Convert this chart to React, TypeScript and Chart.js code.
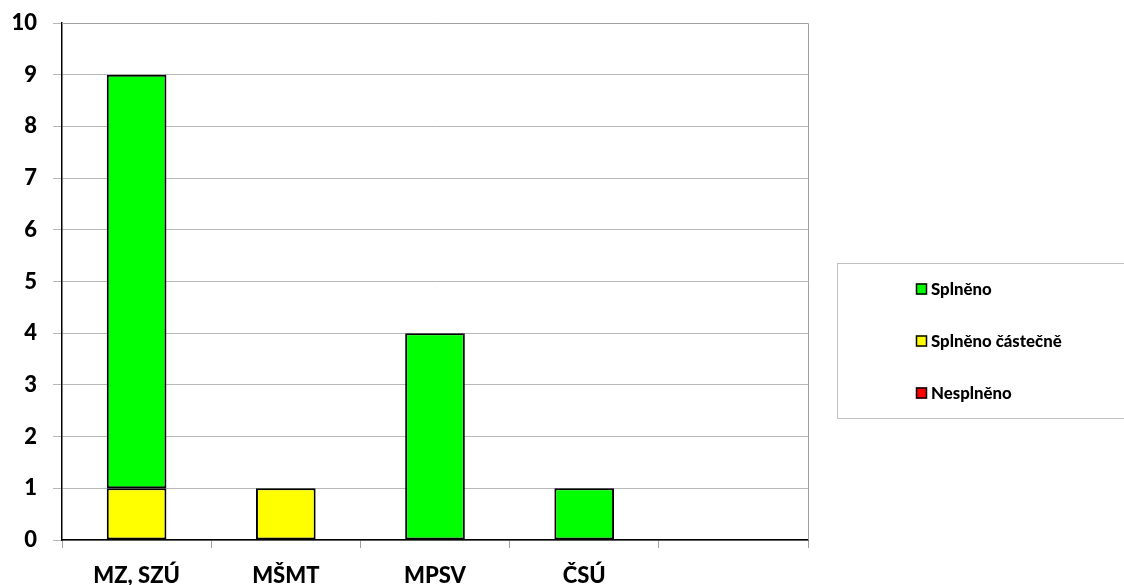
import React, { useEffect, useRef } from "react";
import { Chart, registerables } from "chart.js";

Chart.register(...registerables);

const categories = ["MZ, SZÚ", "MŠMT", "MPSV", "ČSÚ", ""];
const splnenoValues = [8, null, 4, 1, null];
const castecneValues = [1, 1, null, null, null];
const nesplnenoValues = [null, null, null, null, null];
const seriesLabels = ["Splněno", "Splněno částečně", "Nesplněno"];
const seriesColors = ["#00FF00", "#FFFF00", "#FF0000"];
const yTicks = [0, 1, 2, 3, 4, 5, 6, 7, 8, 9, 10];

const FONT = "Lato, 'Open Sans', sans-serif";

const frame = {
  id: "frame",
  beforeDatasetsDraw(chart: any) {
    const { ctx, chartArea: a } = chart;
    ctx.save();
    ctx.strokeStyle = "#a0a0a0";
    ctx.lineWidth = 1;
    ctx.beginPath();
    ctx.moveTo(a.left, a.top + 0.5);
    ctx.lineTo(a.right + 0.5, a.top + 0.5);
    ctx.lineTo(a.right + 0.5, a.bottom);
    ctx.stroke();
    ctx.restore();
  },
};

const boxLegend = {
  id: "boxLegend",
  afterDraw(chart: any) {
    const { ctx } = chart;
    ctx.save();
    ctx.strokeStyle = "#c0c0c0";
    ctx.lineWidth = 1;
    ctx.strokeRect(837.5, 263.5, 300, 155);
    ctx.font = `900 16.8px ${FONT}`;
    ctx.textBaseline = "middle";
    ctx.fillStyle = "#000";
    const ys = [289, 341, 393];
    seriesLabels.forEach((lab, i) => {
      ctx.fillStyle = seriesColors[i];
      ctx.fillRect(916, ys[i] - 5.5, 11, 11);
      ctx.strokeStyle = "#000";
      ctx.lineWidth = 1.5;
      ctx.strokeRect(916.5, ys[i] - 5, 10, 10);
      ctx.fillStyle = "#000";
      ctx.fillText(lab, 931, ys[i] + 1);
    });
    ctx.restore();
  },
};

export default function App() {
  const ref = useRef<HTMLCanvasElement>(null);
  useEffect(() => {
    if (!ref.current) return;
    const common = {
      borderColor: "#000",
      borderWidth: 2,
      borderSkipped: false,
      barPercentage: 0.4,
      categoryPercentage: 1,
    };
    const chart = new Chart(ref.current, {
      type: "bar",
      data: {
        labels: categories,
        datasets: [
          { label: seriesLabels[1], data: castecneValues, backgroundColor: seriesColors[1], ...common },
          { label: seriesLabels[0], data: splnenoValues, backgroundColor: seriesColors[0], ...common },
          { label: seriesLabels[2], data: nesplnenoValues, backgroundColor: seriesColors[2], ...common },
        ],
      },
      options: {
        animation: false,
        responsive: false,
        maintainAspectRatio: false,
        layout: { padding: { top: 23, right: 316, left: 0, bottom: 0 } },
        plugins: { legend: { display: false }, tooltip: { enabled: false } },
        scales: {
          x: {
            stacked: true,
            afterFit: (s: any) => { s.height = 45; s.paddingLeft = 0; s.paddingRight = 0; },
            grid: { offset: true, drawOnChartArea: false, tickLength: 8, color: "#a0a0a0" },
            border: { color: "#000", width: 1.5 },
            ticks: { font: { family: FONT, weight: "900", size: 22 }, color: "#000", padding: 15 },
          },
          y: {
            stacked: true,
            min: 0,
            max: 10,
            afterFit: (s: any) => { s.width = 62; s.paddingTop = 0; s.paddingBottom = 0; },
            afterBuildTicks: (s: any) => { s.ticks = yTicks.map((v) => ({ value: v })); },
            grid: { color: "#b8b8b8", tickLength: 9 },
            border: { color: "#000", width: 1.5 },
            ticks: { font: { family: FONT, weight: "900", size: 22 }, color: "#000", padding: 16 },
          },
        },
      },
      plugins: [frame, boxLegend],
    } as any);
    return () => chart.destroy();
  }, []);
  return (
    <div style={{ position: "fixed", left: 0, top: 0, width: 1124, height: 585, background: "#fff" }}>
      <canvas ref={ref} width={1124} height={585} style={{ width: 1124, height: 585 }} />
    </div>
  );
}
